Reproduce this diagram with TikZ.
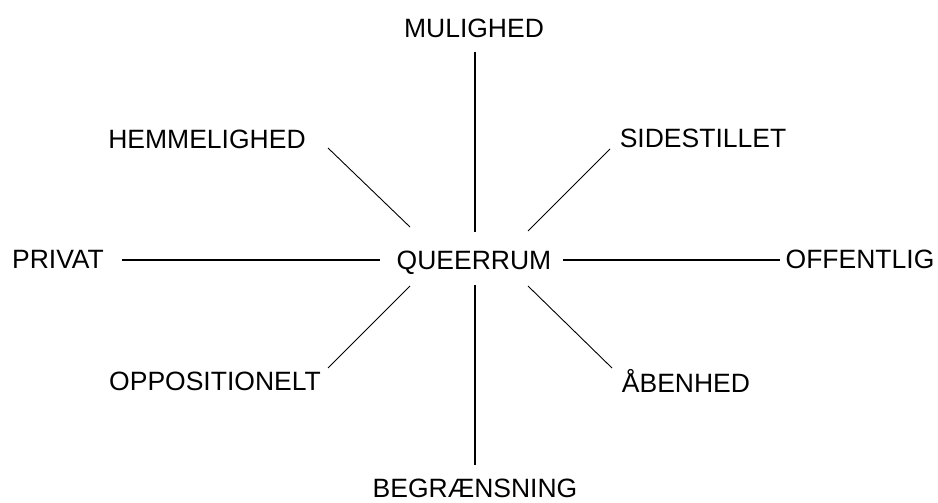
\documentclass[tikz,border=0pt]{standalone}
\usepackage{fontspec}
\setmainfont{Liberation Sans}
\begin{document}
\begin{tikzpicture}[x=1pt,y=-1pt,
  lbl/.style={inner sep=0pt,anchor=base,font=\fontsize{26.5}{30}\selectfont},
  axis/.style={line width=2pt},
  diag/.style={line width=0.9pt}]
\useasboundingbox (0,0) rectangle (938,503);
% labels
\node[lbl] (q)   at (474,269) {QUEERRUM};
\node[lbl] (mul) at (474,38)  {MULIGHED};
\node[lbl] (beg) at (475,497.5) {BEGRÆNSNING};
\node[lbl] (pri) at (58,268)  {PRIVAT};
\node[lbl] (off) at (860,268) {OFFENTLIG};
\node[lbl] (hem) at (207,148) {HEMMELIGHED};
\node[lbl] (sid) at (703,147) {SIDESTILLET};
\node[lbl] (opp) at (215,390) {OPPOSITIONELT};
\node[lbl] (abe) at (686,392) {ÅBENHED};
% connector ends
\coordinate (mulE) at (475,52);
\coordinate (qN)   at (475,232);
\coordinate (qS)   at (475,285);
\coordinate (begE) at (475,465);
\coordinate (priE) at (122,260);
\coordinate (qW)   at (380,260);
\coordinate (qE)   at (563,260);
\coordinate (offE) at (780,260);
\coordinate (hemE) at (328,148);
\coordinate (qNW)  at (410,227);
\coordinate (sidE) at (610,149);
\coordinate (qNE)  at (528,231);
\coordinate (oppE) at (328,368);
\coordinate (qSW)  at (410,286);
\coordinate (abeE) at (612,368);
\coordinate (qSE)  at (528,286);
% connectors
\draw[axis] (mulE) -- (qN);
\draw[axis] (qS) -- (begE);
\draw[axis] (priE) -- (qW);
\draw[axis] (qE) -- (offE);
\draw[diag] (hemE) -- (qNW);
\draw[diag] (sidE) -- (qNE);
\draw[diag] (oppE) -- (qSW);
\draw[diag] (abeE) -- (qSE);
\end{tikzpicture}
\end{document}
